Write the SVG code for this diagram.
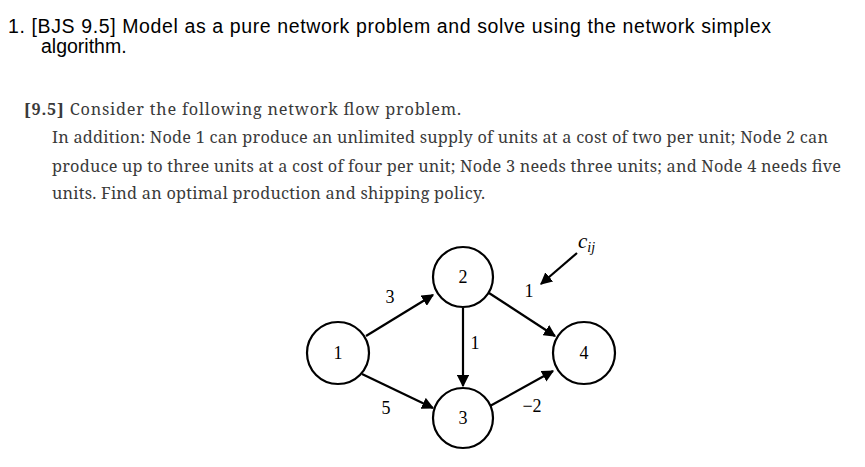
<svg xmlns="http://www.w3.org/2000/svg" width="865" height="467" viewBox="0 0 865 467">
<style>
.t{font-family:"Liberation Sans",Arial,sans-serif;font-size:19.5px;fill:#000}
.s{font-family:"Noto Serif","DejaVu Serif",serif;font-size:16.3px;fill:#3a3a3a}
.n{font-family:"Liberation Serif","Times New Roman",serif;font-size:18px;fill:#000;text-anchor:middle}
circle{fill:#fff;stroke:#000;stroke-width:2.2}
.e{stroke:#000;stroke-width:2.2;fill:none;marker-end:url(#a)}
</style>
<defs><marker id="a" viewBox="0 0 10 10" refX="9" refY="5" markerWidth="5.5" markerHeight="5.5" orient="auto"><path d="M0,0L10,5L0,10z" fill="#000"/></marker></defs>
<rect width="865" height="467" fill="#fff"/>
<text class="t" x="8" y="33" textLength="763">1.  [BJS 9.5]  Model as a pure network problem and solve using the network simplex</text>
<text class="t" x="41" y="53">algorithm.</text>
<text class="s" x="24" y="115" textLength="437"><tspan font-weight="bold">[9.5]</tspan>  Consider the following network flow problem.</text>
<text class="s" x="52" y="143" textLength="776">In addition: Node 1 can produce an unlimited supply of units at a cost of two per unit; Node 2 can</text>
<text class="s" x="52" y="172" textLength="789">produce up to three units at a cost of four per unit; Node 3 needs three units; and Node 4 needs five</text>
<text class="s" x="52" y="199" textLength="433">units. Find an optimal production and shipping policy.</text>
<g id="edges">
<line class="e" x1="366" y1="336" x2="433" y2="295"/>
<line class="e" x1="362" y1="374" x2="433" y2="408"/>
<line class="e" x1="463" y1="308" x2="463" y2="386"/>
<line class="e" x1="489" y1="293" x2="555" y2="336"/>
<line class="e" x1="490" y1="406" x2="553" y2="371"/>
<line class="e" x1="577" y1="253" x2="541" y2="284"/>
<text class="n" x="390" y="303">3</text>
<text class="n" x="386" y="414">5</text>
<text class="n" x="475" y="349">1</text>
<text class="n" x="529" y="297">1</text>
<text class="n" x="532" y="412">−2</text>
<text x="578" y="248" font-family="Liberation Serif,serif" font-style="italic" font-size="21">c<tspan font-size="14" dy="4">ij</tspan></text>
</g>
<g id="n1"><circle cx="338" cy="353" r="31"/><text class="n" x="338" y="359">1</text></g>
<g id="n2"><circle cx="463" cy="277" r="30"/><text class="n" x="463" y="283">2</text></g>
<g id="n3"><circle cx="463" cy="418" r="30"/><text class="n" x="463" y="424">3</text></g>
<g id="n4"><circle cx="584" cy="353" r="31"/><text class="n" x="584" y="359">4</text></g>
</svg>
